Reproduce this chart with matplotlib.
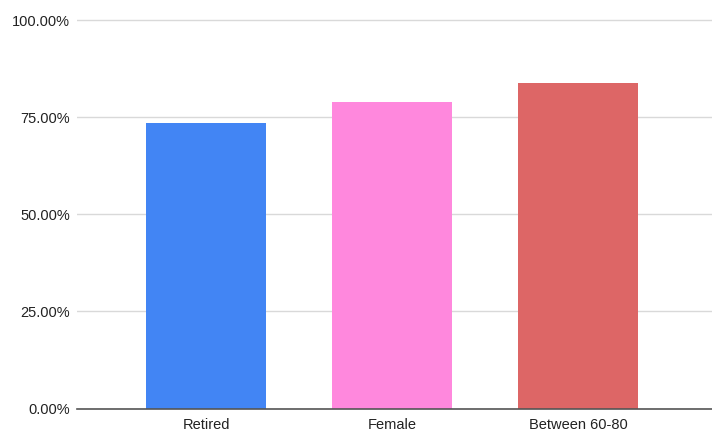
import numpy as np
from matplotlib import pyplot as plt
from matplotlib.ticker import PercentFormatter

categories = ["Retired", "Female", "Between 60-80"]
values = [0.736, 0.788, 0.839]
colors = ["#4285f4", "#ff88dd", "#dd6666"]
yticks = [0, 0.25, 0.5, 0.75, 1.0]

plt.rcParams['font.family'] = ['Liberation Sans', 'DejaVu Sans']

fig = plt.figure(figsize=(7.12, 4.34), dpi=100)
# axes placed by pixel to follow the reference layout
ax = fig.add_axes([77 / 712, 1 - 408.5 / 434, 1 - 77 / 712, (408.5 - 15) / 434])

x = np.arange(len(categories))
ax.bar(x, values, width=0.65, color=colors, zorder=3)

ax.set_ylim(0, 1 + 5 / 388.5)
ax.set_xlim((77 - 206) / 186, (712 - 206) / 186)
ax.set_yticks(yticks)
ax.yaxis.set_major_formatter(PercentFormatter(1.0, decimals=2))
ax.set_xticks(x)
ax.set_xticklabels(categories)
ax.tick_params(axis='both', length=0, labelsize=10.5, colors="#222222")
ax.tick_params(axis='y', pad=5)
ax.tick_params(axis='x', pad=7)

ax.grid(axis='y', color="#d9d9d9", linewidth=1, zorder=0)
for s in ["top", "right", "left"]:
    ax.spines[s].set_visible(False)
ax.spines["bottom"].set_color("#555555")
ax.spines["bottom"].set_linewidth(1.2)
ax.spines["bottom"].set_zorder(4)

fig.savefig("out.png", dpi=100)
